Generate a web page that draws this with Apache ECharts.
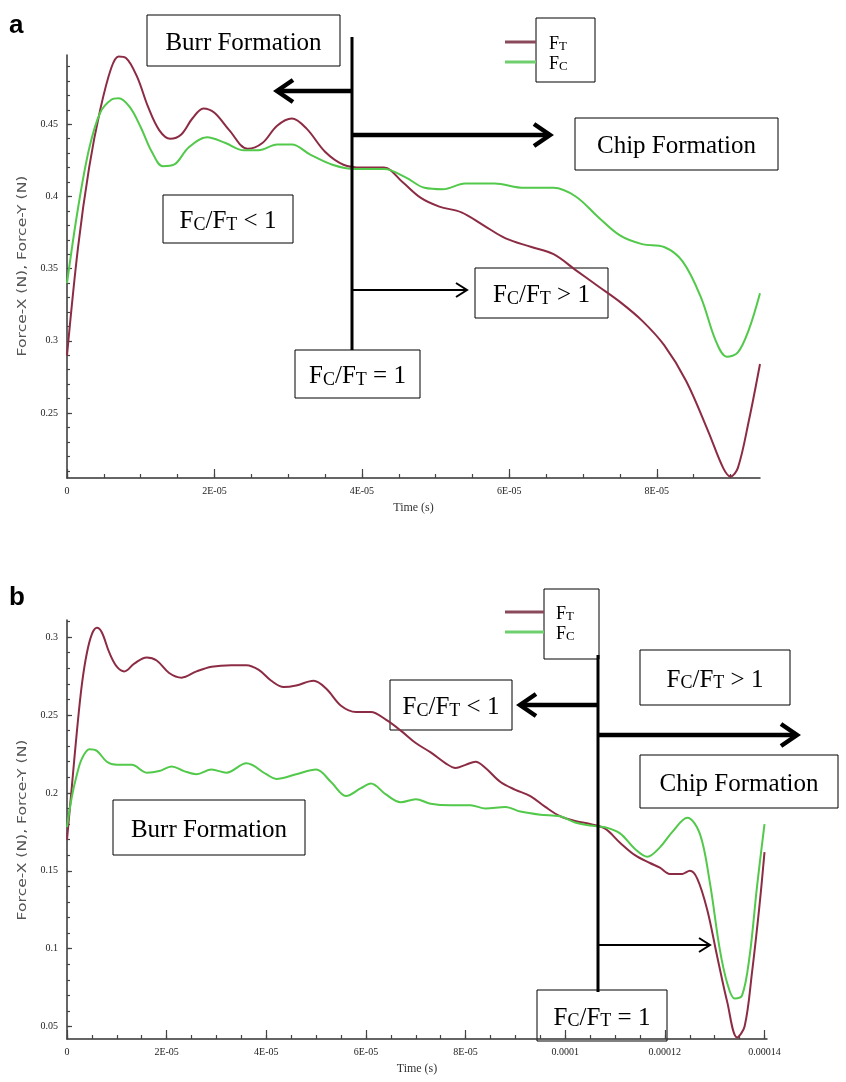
<!DOCTYPE html>
<html><head><meta charset="utf-8">
<script src="https://cdn.jsdelivr.net/npm/echarts@6/dist/echarts.min.js"></script>
<style>html,body{margin:0;padding:0;background:#fff}#c{width:846px;height:1082px}</style>
</head><body><div id="c"></div>
<script>
// ---------- Chart (a) data ----------
const timeFtA = [0,1.5e-6,3e-6,4.5e-6,6e-6,7e-6,8e-6,9.5e-6,1.1e-5,1.25e-5,1.4e-5,1.55e-5,1.7e-5,1.85e-5,2.0e-5,2.2e-5,2.45e-5,2.65e-5,2.85e-5,3.05e-5,3.25e-5,3.5e-5,3.75e-5,4.0e-5,4.3e-5,4.55e-5,4.8e-5,5.05e-5,5.35e-5,5.65e-5,5.95e-5,6.3e-5,6.6e-5,6.9e-5,7.2e-5,7.5e-5,7.8e-5,8.1e-5,8.4e-5,8.7e-5,8.9e-5,9.0e-5,9.1e-5,9.25e-5,9.4e-5];
const ftA = [0.29,0.365,0.42,0.46,0.489,0.497,0.496,0.483,0.462,0.446,0.44,0.443,0.454,0.461,0.458,0.446,0.433,0.437,0.449,0.454,0.447,0.431,0.422,0.42,0.42,0.41,0.399,0.393,0.389,0.38,0.371,0.365,0.36,0.349,0.338,0.327,0.314,0.297,0.272,0.237,0.212,0.206,0.212,0.245,0.284];
const timeFcA = [0,1.5e-6,3e-6,4.5e-6,6e-6,7e-6,8.5e-6,1.0e-5,1.15e-5,1.3e-5,1.45e-5,1.65e-5,1.9e-5,2.15e-5,2.4e-5,2.6e-5,2.85e-5,3.05e-5,3.3e-5,3.6e-5,3.9e-5,4.3e-5,4.6e-5,4.85e-5,5.1e-5,5.4e-5,5.8e-5,6.2e-5,6.6e-5,6.9e-5,7.2e-5,7.5e-5,7.8e-5,8.1e-5,8.35e-5,8.6e-5,8.8e-5,8.95e-5,9.1e-5,9.25e-5,9.4e-5];
const fcA = [0.34,0.392,0.433,0.458,0.467,0.468,0.462,0.448,0.431,0.421,0.422,0.434,0.441,0.437,0.432,0.432,0.436,0.436,0.429,0.422,0.419,0.419,0.413,0.406,0.405,0.409,0.409,0.406,0.406,0.4,0.386,0.373,0.367,0.365,0.355,0.33,0.3,0.289,0.292,0.308,0.333];
const xTickValuesA = [0,2e-5,4e-5,6e-5,8e-5];
const xTickLabelsA = ['0','2E-05','4E-05','6E-05','8E-05'];
const yTickValuesA = [0.25,0.3,0.35,0.4,0.45];
const yTickLabelsA = ['0.25','0.3','0.35','0.4','0.45'];

// ---------- Chart (b) data ----------
const timeFtB = [0,1e-6,2e-6,3e-6,4e-6,5e-6,6e-6,7e-6,8.5e-6,1.0e-5,1.15e-5,1.35e-5,1.6e-5,1.8e-5,2.05e-5,2.3e-5,2.6e-5,2.9e-5,3.3e-5,3.6e-5,3.85e-5,4.1e-5,4.35e-5,4.6e-5,4.95e-5,5.2e-5,5.5e-5,5.8e-5,6.1e-5,6.4e-5,6.7e-5,7.0e-5,7.3e-5,7.6e-5,7.8e-5,8.0e-5,8.2e-5,8.4e-5,8.7e-5,9.0e-5,9.3e-5,9.6e-5,9.9e-5,1.02e-4,1.05e-4,1.08e-4,1.11e-4,1.14e-4,1.17e-4,1.19e-4,1.21e-4,1.235e-4,1.25e-4,1.265e-4,1.285e-4,1.305e-4,1.325e-4,1.345e-4,1.36e-4,1.375e-4,1.39e-4,1.4e-4];
const ftB = [0.17,0.205,0.24,0.27,0.29,0.302,0.306,0.303,0.29,0.281,0.278,0.283,0.287,0.285,0.277,0.274,0.278,0.281,0.282,0.282,0.279,0.272,0.268,0.269,0.272,0.267,0.256,0.252,0.252,0.247,0.24,0.232,0.226,0.219,0.216,0.218,0.22,0.216,0.207,0.202,0.198,0.191,0.185,0.182,0.18,0.177,0.168,0.16,0.155,0.152,0.148,0.148,0.15,0.145,0.125,0.095,0.066,0.043,0.05,0.085,0.128,0.162];
const timeFcB = [0,1e-6,2e-6,3e-6,4.5e-6,6e-6,8e-6,1.0e-5,1.3e-5,1.6e-5,1.85e-5,2.1e-5,2.35e-5,2.6e-5,2.9e-5,3.2e-5,3.6e-5,4.0e-5,4.2e-5,4.6e-5,5.0e-5,5.3e-5,5.6e-5,5.9e-5,6.1e-5,6.4e-5,6.7e-5,7.0e-5,7.3e-5,7.7e-5,8.1e-5,8.4e-5,8.8e-5,9.1e-5,9.5e-5,9.9e-5,1.02e-4,1.05e-4,1.08e-4,1.11e-4,1.14e-4,1.165e-4,1.19e-4,1.215e-4,1.245e-4,1.27e-4,1.29e-4,1.31e-4,1.325e-4,1.34e-4,1.355e-4,1.37e-4,1.385e-4,1.4e-4];
const fcB = [0.178,0.198,0.212,0.222,0.228,0.227,0.22,0.218,0.218,0.213,0.214,0.217,0.214,0.212,0.215,0.213,0.219,0.212,0.209,0.212,0.215,0.207,0.198,0.203,0.206,0.199,0.194,0.196,0.193,0.192,0.192,0.19,0.191,0.188,0.186,0.185,0.181,0.179,0.178,0.174,0.164,0.159,0.165,0.175,0.184,0.174,0.143,0.1,0.078,0.068,0.07,0.095,0.14,0.18];
const xTickValuesB = [0,2e-5,4e-5,6e-5,8e-5,1e-4,1.2e-4,1.4e-4];
const xTickLabelsB = ['0','2E-05','4E-05','6E-05','8E-05','0.0001','0.00012','0.00014'];
const yTickValuesB = [0.05,0.1,0.15,0.2,0.25,0.3];
const yTickLabelsB = ['0.05','0.1','0.15','0.2','0.25','0.3'];

const seriesNames = ['FT','FC'];
const ftColor = '#8c2c44';
const fcColor = '#52c94a';

// ---------- helpers ----------
function labelFor(values, labels) {
  return function (v) {
    for (let i = 0; i < values.length; i++) if (Math.abs(values[i] - v) < 1e-9) return labels[i];
    return '';
  };
}
function minorTicks(min, max, step) {
  const out = [];
  for (let k = Math.ceil(min / step - 1e-6); k * step <= max + 1e-12; k++) out.push(+(k * step).toPrecision(10));
  return out;
}
function zip(t, v) { return t.map((x, i) => [x, v[i]]); }

const tickFont = { fontFamily: 'Liberation Sans Narrow', fontSize: 10, color: '#222' };
const axisLineStyle = { color: '#333', width: 1.5 };

function mainX(grid, min, max, vals, labs) {
  return {
    type: 'value', gridIndex: grid, min: min, max: max, position: 'bottom',
    name: 'Time (s)', nameLocation: 'middle', nameGap: 24,
    nameTextStyle: { fontFamily: 'Liberation Sans Narrow', fontSize: 12, color: '#333' },
    axisLine: { show: true, onZero: false, lineStyle: axisLineStyle },
    axisTick: { show: true, inside: true, length: 9, customValues: vals, lineStyle: { color: '#444', width: 1.2 } },
    axisLabel: { show: true, customValues: vals, formatter: labelFor(vals, labs), margin: 8, ...tickFont },
    splitLine: { show: false }
  };
}
function minorX(grid, min, max, step) {
  return {
    type: 'value', gridIndex: grid, min: min, max: max, position: 'bottom',
    axisLine: { show: false }, axisLabel: { show: false }, splitLine: { show: false },
    axisTick: { show: true, inside: true, length: 4, customValues: minorTicks(min, max, step), lineStyle: { color: '#444', width: 1.2 } }
  };
}
function mainY(grid, min, max, vals, labs) {
  return {
    type: 'value', gridIndex: grid, min: min, max: max, position: 'left',
    axisLine: { show: true, onZero: false, lineStyle: axisLineStyle },
    axisTick: { show: true, inside: true, length: 5, customValues: vals, lineStyle: { color: '#444', width: 1.2 } },
    axisLabel: { show: true, customValues: vals, formatter: labelFor(vals, labs), margin: 9, ...tickFont },
    splitLine: { show: false }
  };
}
function minorY(grid, min, max, step) {
  return {
    type: 'value', gridIndex: grid, min: min, max: max, position: 'left',
    axisLine: { show: false }, axisLabel: { show: false }, splitLine: { show: false },
    axisTick: { show: true, inside: true, length: 3, customValues: minorTicks(min, max, step), lineStyle: { color: '#444', width: 1.2 } }
  };
}
function lineSeries(name, color, xi, yi, data) {
  return {
    name: name, type: 'line', xAxisIndex: xi, yAxisIndex: yi, data: data,
    showSymbol: false, smooth: 0.35, lineStyle: { color: color, width: 2 }, itemStyle: { color: color },
    animation: false, z: 3
  };
}

// ---------- annotation graphics ----------
const RICH = {
  n: { fontFamily: 'Liberation Serif', fontSize: 25, lineHeight: 30, verticalAlign: 'bottom', fill: '#000', color: '#000' },
  s: { fontFamily: 'Liberation Serif', fontSize: 18, lineHeight: 21, verticalAlign: 'bottom', fill: '#000', color: '#000' }
};
const RICH_LEG = {
  n: { fontFamily: 'Liberation Serif', fontSize: 18, lineHeight: 22, verticalAlign: 'bottom', fill: '#000', color: '#000' },
  s: { fontFamily: 'Liberation Serif', fontSize: 13, lineHeight: 16, verticalAlign: 'bottom', fill: '#000', color: '#000' }
};
function box(x1, y1, x2, y2, text) {
  return {
    type: 'group', z: 20, children: [
      { type: 'rect', shape: { x: x1, y: y1, width: x2 - x1, height: y2 - y1 }, style: { fill: '#fff', stroke: '#000', lineWidth: 1 } },
      { type: 'text', x: (x1 + x2) / 2, y: (y1 + y2) / 2, style: { text: text, rich: RICH, align: 'center', verticalAlign: 'middle' } }
    ]
  };
}
function arrow(x1, y, x2, w, hl, hh) {
  const d = x2 > x1 ? -1 : 1;
  return {
    type: 'group', z: 19, children: [
      { type: 'polyline', shape: { points: [[x1, y], [x2, y]] }, style: { stroke: '#000', lineWidth: w, fill: null } },
      { type: 'polyline', shape: { points: [[x2 + d * hl, y - hh], [x2, y], [x2 + d * hl, y + hh]] }, style: { stroke: '#000', lineWidth: w, fill: null, lineJoin: 'miter' } }
    ]
  };
}
function vline(x, y1, y2) {
  return { type: 'line', z: 19, shape: { x1: x, y1: y1, x2: x, y2: y2 }, style: { stroke: '#000', lineWidth: 3 } };
}
function legend(bx1, by1, bx2, by2, lx1, yT, yC, tx) {
  return {
    type: 'group', z: 20, children: [
      { type: 'rect', shape: { x: bx1, y: by1, width: bx2 - bx1, height: by2 - by1 }, style: { fill: '#fff', stroke: '#000', lineWidth: 1 } },
      { type: 'line', shape: { x1: lx1, y1: yT, x2: bx1, y2: yT }, style: { stroke: '#8a4a5c', lineWidth: 3 } },
      { type: 'line', shape: { x1: lx1, y1: yC, x2: bx1, y2: yC }, style: { stroke: '#6fcf6f', lineWidth: 3 } },
      { type: 'text', x: tx, y: yT, style: { text: '{n|F}{s|T}', rich: RICH_LEG, align: 'left', verticalAlign: 'middle' } },
      { type: 'text', x: tx, y: yC, style: { text: '{n|F}{s|C}', rich: RICH_LEG, align: 'left', verticalAlign: 'middle' } }
    ]
  };
}
function yTitle(x, y) {
  return { type: 'text', x: x, y: y, rotation: Math.PI / 2, scaleX: 1.3, z: 10,
    style: { text: 'Force-X (N), Force-Y (N)', fontFamily: 'DejaVu Sans', fontSize: 12, fill: '#555', align: 'center', verticalAlign: 'middle' } };
}
function panelLabel(x, y, t) {
  return { type: 'text', x: x, y: y, z: 10, style: { text: t, fontFamily: 'Liberation Sans', fontWeight: 'bold', fontSize: 26, fill: '#000', align: 'left', verticalAlign: 'middle' } };
}

const LT = '{n|F}{s|C}{n|/F}{s|T}{n| < 1}';
const GT = '{n|F}{s|C}{n|/F}{s|T}{n| > 1}';
const EQ = '{n|F}{s|C}{n|/F}{s|T}{n| = 1}';

const graphics = [
  panelLabel(9, 26, 'a'),
  panelLabel(9, 598, 'b'),
  yTitle(23, 266),
  yTitle(23, 830),
  // chart a
  vline(352, 37, 350),
  arrow(352, 91, 277, 4.5, 16, 11),
  arrow(352, 135, 550, 4.5, 16, 11),
  arrow(352, 290, 467, 2, 11, 7),
  box(147, 15, 340, 66, '{n|Burr Formation}'),
  box(575, 118, 778, 170, '{n|Chip Formation}'),
  box(163, 195, 293, 243, LT),
  box(475, 268, 608, 318, GT),
  box(295, 350, 420, 398, EQ),
  legend(536, 18, 595, 82, 505, 42, 62, 549),
  // chart b
  vline(598, 655, 992),
  arrow(598, 705, 520, 4.5, 16, 11),
  arrow(598, 735, 797, 4.5, 16, 11),
  arrow(598, 945, 710, 2, 11, 7),
  box(640, 650, 790, 705, GT),
  box(390, 680, 512, 730, LT),
  box(640, 755, 838, 808, '{n|Chip Formation}'),
  box(113, 800, 305, 855, '{n|Burr Formation}'),
  box(537, 990, 667, 1041, EQ),
  legend(544, 589, 599, 659, 505, 612, 632, 556)
];

const chart = echarts.init(document.getElementById('c'), null, { renderer: 'canvas' });
chart.setOption({
  animation: false,
  backgroundColor: '#fff',
  grid: [
    { left: 67, top: 55, width: 693, height: 423 },
    { left: 67, top: 620, width: 700, height: 419 }
  ],
  xAxis: [
    mainX(0, 0, 9.4e-5, xTickValuesA, xTickLabelsA),
    minorX(0, 0, 9.4e-5, 5e-6),
    mainX(1, 0, 1.405e-4, xTickValuesB, xTickLabelsB),
    minorX(1, 0, 1.405e-4, 5e-6)
  ],
  yAxis: [
    mainY(0, 0.205, 0.498, yTickValuesA, yTickLabelsA),
    minorY(0, 0.205, 0.498, 0.01),
    mainY(1, 0.042, 0.311, yTickValuesB, yTickLabelsB),
    minorY(1, 0.042, 0.311, 0.01)
  ],
  series: [
    lineSeries(seriesNames[0], ftColor, 0, 0, zip(timeFtA, ftA)),
    lineSeries(seriesNames[1], fcColor, 0, 0, zip(timeFcA, fcA)),
    lineSeries(seriesNames[0], ftColor, 2, 2, zip(timeFtB, ftB)),
    lineSeries(seriesNames[1], fcColor, 2, 2, zip(timeFcB, fcB))
  ],
  graphic: graphics
});
</script></body></html>
